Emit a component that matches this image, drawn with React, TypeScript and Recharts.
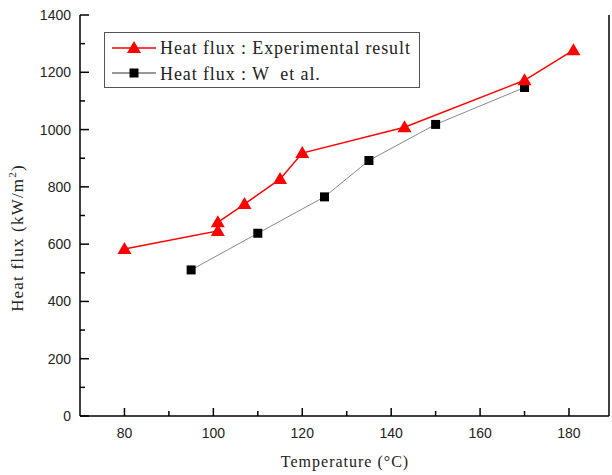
import React from 'react';
import {
  LineChart,
  Line,
  XAxis,
  YAxis,
} from 'recharts';

const expTemps = [80, 101, 101, 107, 115, 120, 143, 170, 181];
const expFlux = [583, 646, 676, 740, 827, 918, 1008, 1172, 1277];
const wTemps = [95, 110, 125, 135, 150, 170];
const wFlux = [510, 638, 765, 892, 1018, 1147];

const xTicks = [80, 90, 100, 110, 120, 130, 140, 150, 160, 170, 180];
const xLabels = [80, 100, 120, 140, 160, 180];
const yTicks = [0, 100, 200, 300, 400, 500, 600, 700, 800, 900, 1000, 1100, 1200, 1300, 1400];
const yLabels = [0, 200, 400, 600, 800, 1000, 1200, 1400];

const expData = expTemps.map((t, i) => ({ t, q: expFlux[i] }));
const wData = wTemps.map((t, i) => ({ t, q: wFlux[i] }));

const sans = '"Liberation Sans", Arial, sans-serif';
const serif = '"Liberation Serif", "Times New Roman", serif';

const BottomTick = (props: any) => {
  const { x, y, payload } = props;
  const major = xLabels.includes(payload.value);
  return (
    <g>
      <line x1={x} x2={x} y1={y} y2={y - (major ? 8 : 5)} stroke="#000" strokeWidth={1.5} />
      {major && (
        <text x={x} y={y + 22} textAnchor="middle" fontFamily={sans} fontSize={14} fill="#222">
          {payload.value}
        </text>
      )}
    </g>
  );
};

const TopTick = (props: any) => {
  const { x, y, payload } = props;
  const major = xLabels.includes(payload.value);
  return <line x1={x} x2={x} y1={y} y2={y + (major ? 8 : 5)} stroke="#000" strokeWidth={1.5} />;
};

const LeftTick = (props: any) => {
  const { x, y, payload } = props;
  const major = yLabels.includes(payload.value);
  return (
    <g>
      <line x1={x} x2={x + (major ? 9 : 5)} y1={y} y2={y} stroke="#000" strokeWidth={1.5} />
      {major && (
        <text x={x - 9} y={y + 5} textAnchor="end" fontFamily={sans} fontSize={14} fill="#222">
          {payload.value}
        </text>
      )}
    </g>
  );
};

const RightTick = (props: any) => {
  const { x, y, payload } = props;
  const major = yLabels.includes(payload.value);
  return <line x1={x} x2={x - (major ? 9 : 5)} y1={y} y2={y} stroke="#000" strokeWidth={1.5} />;
};

const Triangle = (props: any) => {
  const { cx, cy } = props;
  if (cx == null || cy == null) return null;
  return <path d={`M${cx},${cy - 7} L${cx + 7},${cy + 5} L${cx - 7},${cy + 5} Z`} fill="#ff0000" />;
};

const Square = (props: any) => {
  const { cx, cy } = props;
  if (cx == null || cy == null) return null;
  return <rect x={cx - 4.5} y={cy - 4.5} width={9} height={9} fill="#000" />;
};

// legend box drawn straight into the chart svg so it doesn't push the plot down
const LegendBox = () => (
  <g transform="translate(104,32)">
    <rect x={0.5} y={0.5} width={315} height={55} fill="#fff" stroke="#555" strokeWidth={1} />
    <line x1={8} x2={52} y1={16} y2={16} stroke="#ff0000" strokeWidth={1.5} />
    <path d="M30,9 L37,21 L23,21 Z" fill="#ff0000" />
    <text x={56} y={22} fontFamily={serif} fontSize={18} letterSpacing={0.9} fill="#222">
      Heat flux : Experimental result
    </text>
    <line x1={8} x2={52} y1={41} y2={41} stroke="#333" strokeWidth={1} />
    <rect x={25.5} y={36.5} width={9} height={9} fill="#000" />
    <text x={56} y={48} fontFamily={serif} fontSize={18} letterSpacing={0.9} fill="#222" xmlSpace="preserve">
      Heat flux : W  et al.
    </text>
  </g>
);

const App: React.FC = () => {
  return (
    <div style={{ position: 'absolute', left: 0, top: 0, width: 612, height: 475, background: '#fff' }}>
      <LineChart
        width={612}
        height={475}
        margin={{ top: 15, right: 0, left: 0, bottom: 0 }}
      >
        <XAxis
          dataKey="t"
          type="number"
          domain={[70, 189]}
          ticks={xTicks}
          allowDataOverflow
          height={59}
          tickSize={0}
          tickMargin={0}
          tick={<BottomTick />}
          stroke="#000"
          strokeWidth={1.5}
          interval={0}
        />
        <XAxis
          xAxisId="top"
          orientation="top"
          type="number"
          domain={[70, 189]}
          ticks={xTicks}
          allowDataOverflow
          height={0}
          tickSize={0}
          tickMargin={0}
          tick={<TopTick />}
          stroke="#000"
          strokeWidth={1.5}
          interval={0}
        />
        <YAxis
          type="number"
          domain={[0, 1400]}
          ticks={yTicks}
          width={80}
          tickSize={0}
          tickMargin={0}
          tick={<LeftTick />}
          stroke="#000"
          strokeWidth={1.5}
          interval={0}
        />
        <YAxis
          yAxisId="right"
          orientation="right"
          type="number"
          domain={[0, 1400]}
          ticks={yTicks}
          width={3}
          tickSize={0}
          tickMargin={0}
          tick={<RightTick />}
          stroke="#000"
          strokeWidth={1.5}
          interval={0}
        />
        <Line
          data={wData}
          dataKey="q"
          stroke="#8a8a8a"
          strokeWidth={1}
          dot={<Square />}
          activeDot={false}
          isAnimationActive={false}
        />
        <Line
          data={expData}
          dataKey="q"
          stroke="#ff0000"
          strokeWidth={1.5}
          dot={<Triangle />}
          activeDot={false}
          isAnimationActive={false}
        />
        <LegendBox />
        <text
          x={345}
          y={467}
          textAnchor="middle"
          fontFamily={serif}
          fontSize={16}
          letterSpacing={1}
          fill="#222"
        >
          Temperature (°C)
        </text>
        <text
          x={23}
          y={238}
          textAnchor="middle"
          fontFamily={serif}
          fontSize={17}
          letterSpacing={1.2}
          fill="#222"
          transform="rotate(-90 23 238)"
        >
          Heat flux (kW/m<tspan dy={-7} fontSize={11}>2</tspan><tspan dy={7}>)</tspan>
        </text>
      </LineChart>
    </div>
  );
};

export default App;
